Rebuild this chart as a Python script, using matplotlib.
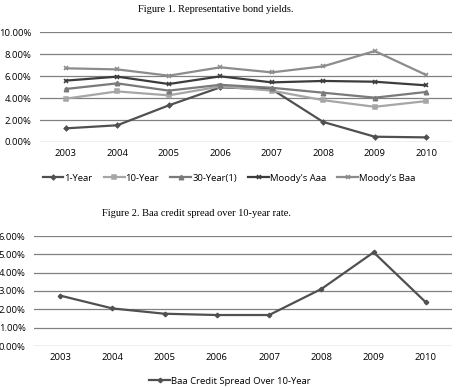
import matplotlib
matplotlib.use("Agg")
import matplotlib.pyplot as plt
from matplotlib.ticker import FuncFormatter

years = ["2003", "2004", "2005", "2006", "2007", "2008", "2009", "2010"]
one_year = [1.24, 1.52, 3.33, 4.97, 4.80, 1.82, 0.48, 0.42]
ten_year = [3.94, 4.60, 4.24, 5.05, 4.67, 3.80, 3.20, 3.72]
thirty_year = [4.82, 5.33, 4.67, 5.20, 4.93, 4.48, 4.03, 4.55]
aaa = [5.58, 5.94, 5.27, 5.97, 5.42, 5.55, 5.48, 5.15]
baa = [6.70, 6.60, 6.03, 6.79, 6.33, 6.88, 8.27, 6.09]
spread = [2.75, 2.05, 1.76, 1.69, 1.69, 3.11, 5.11, 2.38]

W, H = 468, 387
fig = plt.figure(figsize=(W / 100, H / 100), dpi=100)
fig.patch.set_facecolor("white")

sans = ["Open Sans", "DejaVu Sans"]
serif = ["Liberation Serif", "DejaVu Serif"]
fmt = FuncFormatter(lambda v, p: f"{v:.2f}%")


def style_axes(ax, ymax, step):
    x = list(range(len(years)))
    ax.set_xlim(-0.5, len(years) - 0.5)
    ax.set_ylim(0, ymax)
    ax.set_yticks([i * step for i in range(int(round(ymax / step)) + 1)])
    ax.yaxis.set_major_formatter(fmt)
    ax.set_xticks(x)
    ax.set_xticklabels(years)
    for s in ax.spines.values():
        s.set_visible(False)
    ax.grid(axis="y", color="#808080", linewidth=0.9)
    ax.set_axisbelow(True)
    ax.tick_params(length=0, labelsize=6.8, colors="black", pad=5)
    ax.tick_params(axis="y", pad=6)
    for lab in ax.get_xticklabels() + ax.get_yticklabels():
        lab.set_family(sans)
    return x


ax1 = fig.add_axes([40 / W, 245 / H, 412 / W, 110 / H])
x = style_axes(ax1, 10, 2)
series = [
    ("1-Year", one_year, "#505050", "D", 2.3),
    ("10-Year", ten_year, "#a6a6a6", "s", 3.2),
    ("30-Year(1)", thirty_year, "#7a7a7a", "^", 3.2),
    ("Moody's Aaa", aaa, "#3c3c3c", "x", 3.2),
    ("Moody's Baa", baa, "#8c8c8c", "x", 3.2),
]
for name, vals, col, mk, ms in series:
    ax1.plot(x, vals, color=col, lw=1.6, marker=mk, ms=ms, mew=1.1,
             mec=col, mfc=col, label=name, clip_on=False)
ax1.legend(loc="upper center", bbox_to_anchor=(0.459, -0.21), ncol=5,
           frameon=False, handlelength=2.2, handletextpad=0.1,
           columnspacing=1.2, prop={"family": sans, "size": 6.8})
fig.text(216 / W, 1 - 10 / H, "Figure 1. Representative bond yields.",
         ha="center", va="center", family=serif, fontsize=7.5)

ax2 = fig.add_axes([34 / W, 41 / H, 418 / W, 110 / H])
x = style_axes(ax2, 6, 1)
ax2.plot(x, spread, color="#505050", lw=1.6, marker="D", ms=2.3,
         label="Baa Credit Spread Over 10-Year", clip_on=False)
ax2.legend(loc="upper center", bbox_to_anchor=(0.469, -0.20), ncol=1,
           frameon=False, handlelength=2.2, handletextpad=0.1,
           prop={"family": sans, "size": 6.8})
fig.text(197 / W, 1 - 214 / H, "Figure 2. Baa credit spread over 10-year rate.",
         ha="center", va="center", family=serif, fontsize=7.5)

fig.savefig("out.png", dpi=100, facecolor="white")
